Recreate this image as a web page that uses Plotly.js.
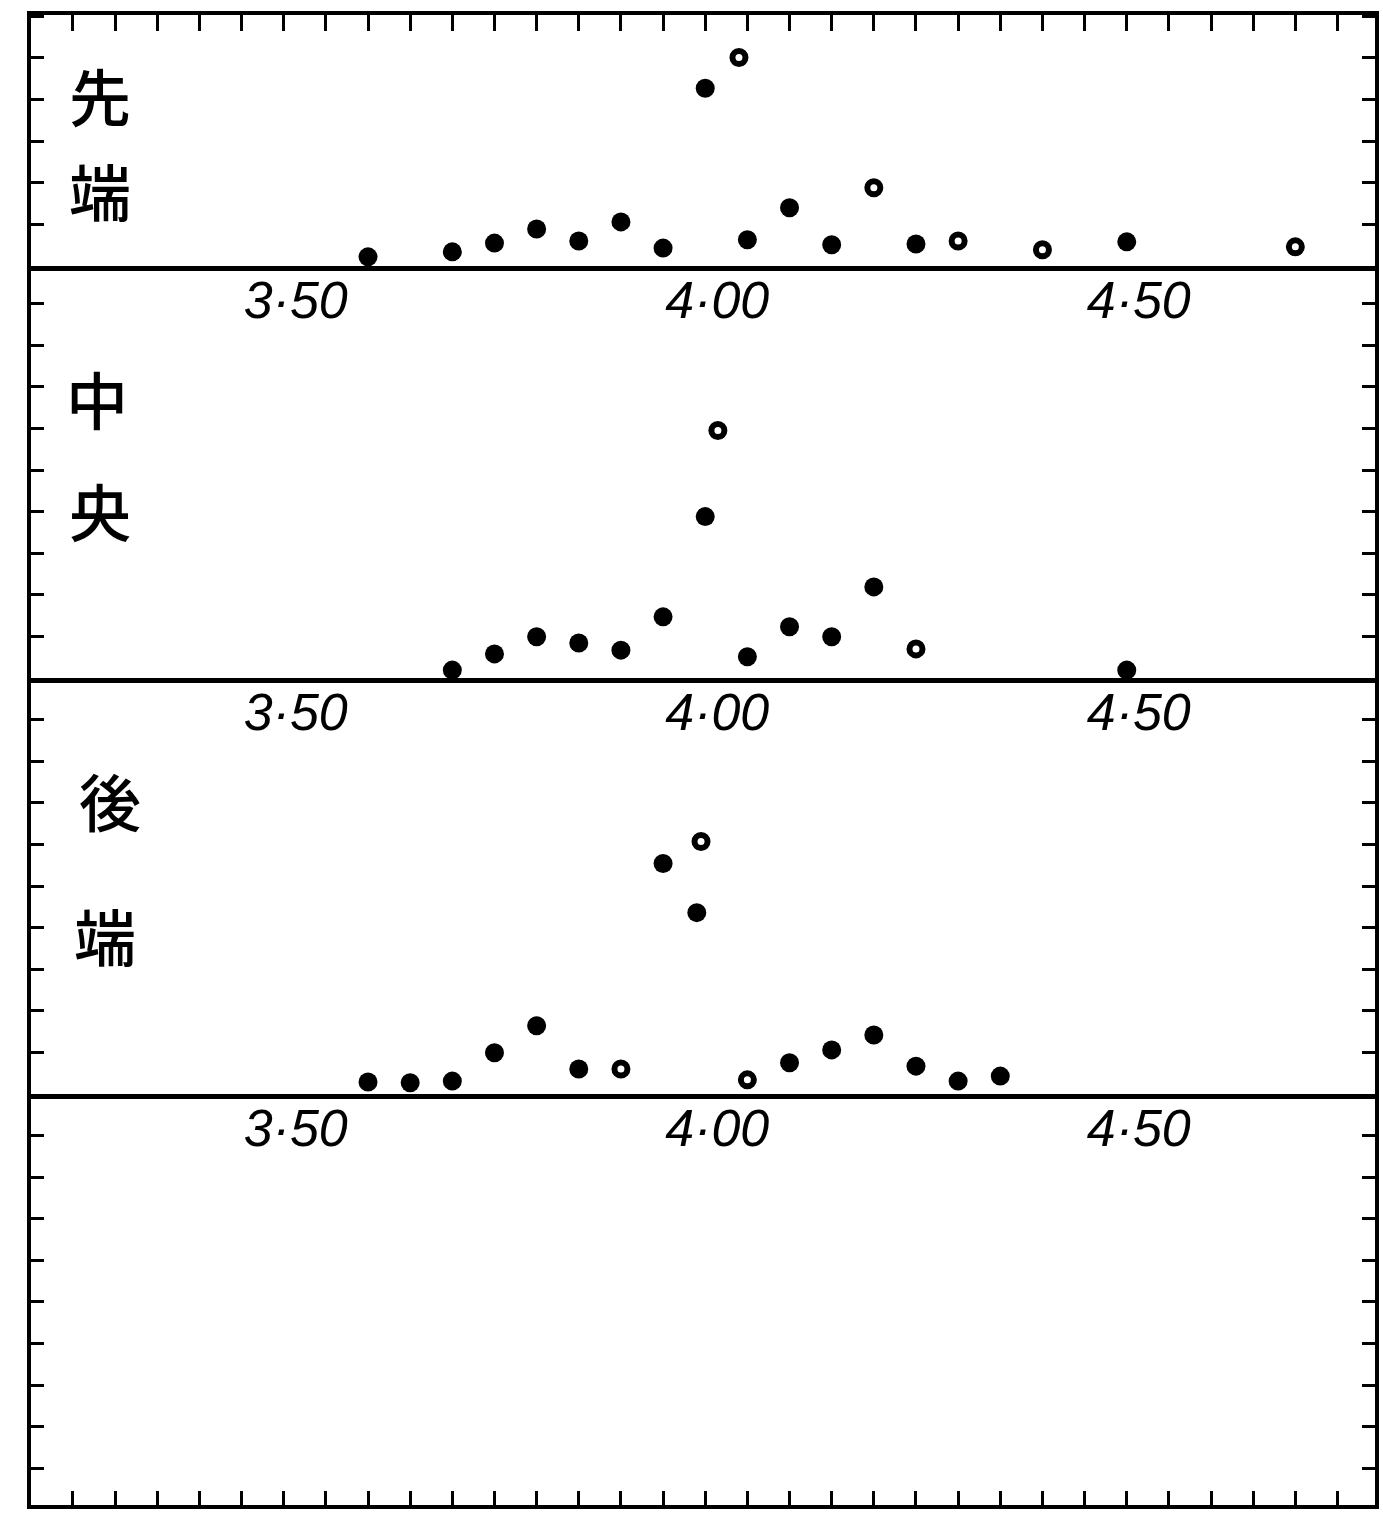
<!DOCTYPE html>
<html>
<head>
<meta charset="utf-8">
<script src="https://cdn.plot.ly/plotly-3.0.1.min.js"></script>
<style>html,body{margin:0;padding:0;background:#fff;}#chart{width:1383px;height:1516px;}</style>
</head>
<body>
<div id="chart"></div>
<script>
// ---- data ----
const xTickVals = [3.5, 4.0, 4.5];
const xTickText = ['3·50', '4·00', '4·50'];
const panelLabels = ['先端', '中央', '後端'];

// 先端 (front)
const frontFilledX = [3.60, 3.70, 3.75, 3.80, 3.85, 3.90, 3.95, 4.00, 4.05, 4.10, 4.15, 4.25, 4.50];
const frontFilledY = [0.22, 0.34, 0.55, 0.89, 0.60, 1.06, 0.43, 4.27, 0.63, 1.40, 0.51, 0.53, 0.58];
const frontOpenX = [4.04, 4.20, 4.30, 4.40, 4.70];
const frontOpenY = [5.01, 1.88, 0.60, 0.39, 0.46];

// 中央 (centre)
const centreFilledX = [3.70, 3.75, 3.80, 3.85, 3.90, 3.95, 4.00, 4.05, 4.10, 4.15, 4.20, 4.50];
const centreFilledY = [0.19, 0.58, 0.99, 0.84, 0.67, 1.47, 3.88, 0.51, 1.23, 0.99, 2.19, 0.19];
const centreOpenX = [4.015, 4.25];
const centreOpenY = [5.95, 0.70];

// 後端 (rear)
const rearFilledX = [3.60, 3.65, 3.70, 3.75, 3.80, 3.85, 3.95, 3.99, 4.10, 4.15, 4.20, 4.25, 4.30, 4.35];
const rearFilledY = [0.29, 0.27, 0.31, 0.99, 1.64, 0.60, 5.54, 4.36, 0.75, 1.06, 1.42, 0.67, 0.31, 0.43];
const rearOpenX = [3.90, 3.995, 4.05];
const rearOpenY = [0.60, 6.07, 0.34];

// ---- styles ----
const INK = '#000';
const filledMarker = {symbol: 'circle', size: 19, color: INK};
const openMarker = {symbol: 'circle', size: 13, color: '#fff', line: {color: INK, width: 6}};
const xRange = [3.2002, 4.7945];

function pts(x, y, marker, xa, ya) {
  return {type: 'scatter', mode: 'markers', x: x, y: y, xaxis: xa, yaxis: ya,
          marker: marker, cliponaxis: false, showlegend: false, hoverinfo: 'x+y'};
}
function empty(xa, ya) {
  return {type: 'scatter', mode: 'markers', x: [], y: [], xaxis: xa, yaxis: ya, showlegend: false, hoverinfo: 'skip'};
}

const traces = [
  pts(frontFilledX, frontFilledY, filledMarker, 'x', 'y'),
  pts(frontOpenX, frontOpenY, openMarker, 'x', 'y'),
  pts(centreFilledX, centreFilledY, filledMarker, 'x2', 'y2'),
  pts(centreOpenX, centreOpenY, openMarker, 'x2', 'y2'),
  pts(rearFilledX, rearFilledY, filledMarker, 'x3', 'y3'),
  pts(rearOpenX, rearOpenY, openMarker, 'x3', 'y3'),
  empty('x4', 'y4'),
  empty('x5', 'y')
];

const labelFont = {family: 'Liberation Sans, Arial, sans-serif', size: 52, color: INK, style: 'italic'};

function baseX(anchor) {
  return {
    anchor: anchor, range: xRange, matches: anchor === 'y' ? undefined : 'x',
    showline: true, linewidth: 5, linecolor: INK, mirror: false,
    ticks: '', tickvals: xTickVals, ticktext: xTickText, tickfont: labelFont,
    ticklabelshift: 12, ticklabelstandoff: -15,
    showgrid: false, zeroline: false, fixedrange: true
  };
}
function yAx(anchor, domain, range) {
  return {
    anchor: anchor, domain: domain, range: range,
    showline: true, linewidth: 4, linecolor: INK, mirror: 'ticks',
    ticks: 'inside', ticklen: 13, tickwidth: 3, tickcolor: INK,
    tick0: 0, dtick: 1, showticklabels: false,
    showgrid: false, zeroline: false, fixedrange: true
  };
}

const xa1 = baseX('y');
const xa2 = baseX('y2');
const xa3 = baseX('y3');
const xa4 = {
  anchor: 'y4', range: xRange, matches: 'x',
  showline: true, linewidth: 4, linecolor: INK,
  ticks: 'inside', ticklen: 14, tickwidth: 3, tickcolor: INK,
  tick0: 3.25, dtick: 0.05, showticklabels: false,
  showgrid: false, zeroline: false, fixedrange: true
};
const xa5 = {
  anchor: 'y', overlaying: 'x', side: 'top', range: xRange,
  showline: true, linewidth: 4, linecolor: INK,
  ticks: 'inside', ticklen: 16, tickwidth: 3, tickcolor: INK,
  tick0: 3.25, dtick: 0.05, showticklabels: false,
  showgrid: false, zeroline: false, fixedrange: true
};

// label character positions (paper coords)
const charPos = [
  [[0.0513, 0.9463], [0.0513, 0.8826]],
  [[0.0491, 0.7430], [0.0513, 0.6678]],
  [[0.0588, 0.4732], [0.0551, 0.3826]]
];
const annotations = [];
panelLabels.forEach(function (lab, i) {
  Array.from(lab).forEach(function (ch, j) {
    annotations.push({
      text: ch, xref: 'paper', yref: 'paper', x: charPos[i][j][0], y: charPos[i][j][1],
      xanchor: 'center', yanchor: 'middle', showarrow: false,
      font: {family: 'Noto Sans CJK JP, Noto Sans CJK SC, sans-serif', size: 62, color: INK, weight: 500}
    });
  });
});

const layout = {
  width: 1383, height: 1516,
  margin: {l: 31, r: 8, t: 15, b: 11, pad: 0},
  paper_bgcolor: '#fff', plot_bgcolor: '#fff',
  showlegend: false,
  xaxis: xa1, xaxis2: xa2, xaxis3: xa3, xaxis4: xa4, xaxis5: xa5,
  yaxis: yAx('x', [0.83154, 1], [0, 6.03]),
  yaxis2: yAx('x2', [0.55503, 0.83154], [0, 9.904]),
  yaxis3: yAx('x3', [0.27584, 0.55503], [0, 10]),
  yaxis4: yAx('x4', [0, 0.27584], [-9.88, 0]),
  annotations: annotations
};

Plotly.newPlot('chart', traces, layout, {displayModeBar: false, staticPlot: true});
</script>
</body>
</html>
